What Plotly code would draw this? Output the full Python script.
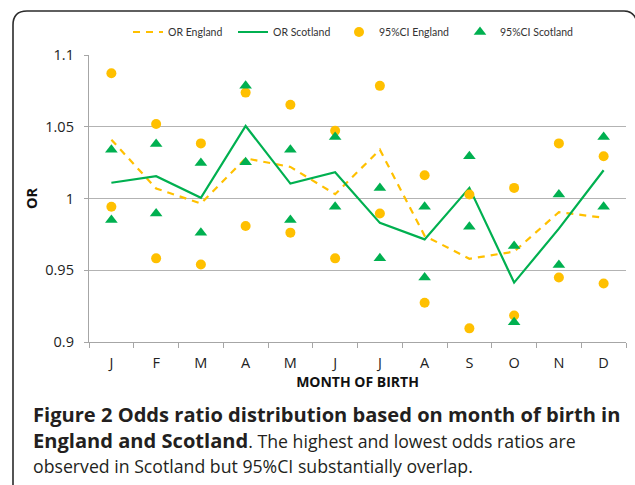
import plotly.graph_objects as go

months = ["J", "F", "M", "A", "M", "J", "J", "A", "S", "O", "N", "D"]
or_england = [1.041, 1.007, 0.9965, 1.028, 1.022, 1.003, 1.034, 0.974, 0.958, 0.963, 0.9905, 0.9866]
or_scotland = [1.011, 1.0155, 1.0005, 1.0505, 1.0104, 1.0183, 0.983, 0.9715, 1.0074, 0.9414, 0.979, 1.0197]
ci_england_hi = [1.0873, 1.0519, 1.0384, 1.0738, 1.0653, 1.0472, 1.0785, 1.0162, 1.0028, 1.0074, 1.0384, 1.0294]
ci_england_lo = [0.9942, 0.9583, 0.9540, 0.9808, 0.9762, 0.9583, 0.9896, 0.9273, 0.9095, 0.9185, 0.9449, 0.9408]
ci_scotland_hi = [1.034, 1.038, 1.0248, 1.0785, 1.034, 1.0428, 1.0074, 0.9942, 1.0294, 0.9669, 1.0028, 1.0428]
ci_scotland_lo = [0.985, 0.9896, 0.9762, 1.0252, 0.985, 0.9942, 0.9583, 0.9449, 0.9803, 0.9137, 0.9537, 0.9942]
y_ticks = [0.9, 0.95, 1.0, 1.05, 1.1]
y_tick_text = ["0.9", "0.95", "1", "1.05", "1.1"]

ORANGE = "#FFC000"
GREEN = "#00B050"
W, H = 635, 485
L, R, T, B = 89, 626, 55, 342

def px(x):
    return (x - L) / (R - L)

def py(y):
    return (B - y) / (B - T)

xs = list(range(len(months)))
fig = go.Figure()
fig.add_trace(go.Scatter(x=xs, y=or_england, mode="lines", name="OR England",
                         line=dict(color=ORANGE, width=2.2, dash="7px,6px"), legend="legend"))
fig.add_trace(go.Scatter(x=xs, y=or_scotland, mode="lines", name="OR Scotland",
                         line=dict(color=GREEN, width=2.2), legend="legend2"))
fig.add_trace(go.Scatter(x=xs + xs, y=ci_england_hi + ci_england_lo, mode="markers", name="95%CI England",
                         marker=dict(color=ORANGE, size=10, symbol="circle"), legend="legend3"))
fig.add_trace(go.Scatter(x=xs + xs, y=ci_scotland_hi + ci_scotland_lo, mode="markers", name="95%CI Scotland",
                         marker=dict(color=GREEN, size=11, symbol="triangle-up"), legend="legend4"))

leg_font = dict(family="Lato, Liberation Sans, sans-serif", size=10.5, color="#333")
def leg(xp):
    return dict(x=px(xp), y=py(32), xanchor="left", yanchor="middle", orientation="h",
                font=leg_font, bgcolor="rgba(0,0,0,0)", itemwidth=30, tracegroupgap=0)

# frame
frame = (f"M {px(13)},{py(495)} L {px(13)},{py(25)} Q {px(13)},{py(11)} {px(27)},{py(11)} "
         f"L {px(624)},{py(11)} Q {px(634)},{py(11)} {px(637)},{py(22)} L {px(637)},{py(495)}")
shapes = [dict(type="path", xref="paper", yref="paper", path=frame,
               line=dict(color="#2b2b2b", width=1.6), layer="above")]

cap_font = dict(family="Open Sans, Noto Sans, sans-serif", size=17.7, color="#231f20")
def big(s):
    return f'<span style="font-size:20.1px"><b>{s}</b></span>'
annotations = [
    dict(text=big("Figure 2 Odds ratio distribution based on month of birth in"),
         x=px(31), y=py(414), xref="paper", yref="paper", xanchor="left", yanchor="middle",
         showarrow=False, font=cap_font),
    dict(text=big("England and Scotland") + ". The highest and lowest odds ratios are",
         x=px(31), y=py(440), xref="paper", yref="paper", xanchor="left", yanchor="middle",
         showarrow=False, font=cap_font),
    dict(text="observed in Scotland but 95%CI substantially overlap.",
         x=px(31), y=py(466), xref="paper", yref="paper", xanchor="left", yanchor="middle",
         showarrow=False, font=cap_font),
]

axis_font = dict(family="Open Sans, Noto Sans, sans-serif", size=14.5, color="#222")
fig.update_layout(
    width=W, height=H,
    margin=dict(l=L, r=W - R, t=T, b=H - B, autoexpand=False),
    paper_bgcolor="white", plot_bgcolor="white",
    showlegend=True,
    legend=leg(128), legend2=leg(233), legend3=leg(339), legend4=leg(460),
    shapes=shapes, annotations=annotations,
    xaxis=dict(range=[-0.5, 11.5], tickmode="array", tickvals=xs, ticktext=months,
               ticks="", showgrid=False, zeroline=False,
               showline=True, linecolor="#a6a6a6", linewidth=1.3,
               tickfont=axis_font, ticklabelstandoff=7,
               minor=dict(tickmode="array", tickvals=[i - 0.5 for i in range(13)],
                          ticks="outside", ticklen=5, tickcolor="#a6a6a6", tickwidth=1.3, showgrid=False),
               title=dict(text="<b>MONTH OF BIRTH</b>", font=dict(family="Open Sans, Noto Sans, sans-serif", size=14, color="#111"),
                          standoff=5)),
    yaxis=dict(range=[0.9, 1.1], tickmode="array", tickvals=y_ticks, ticktext=y_tick_text,
               ticks="outside", ticklen=4, tickcolor="#a6a6a6", tickwidth=1.3,
               showgrid=True, gridcolor="#b3b3b3", gridwidth=1.3, zeroline=False,
               showline=True, linecolor="#a6a6a6", linewidth=1.3,
               tickfont=axis_font, ticklabelstandoff=7,
               title=dict(text="<b>OR</b>", font=dict(family="Open Sans, Noto Sans, sans-serif", size=14.5, color="#111"),
                          standoff=4)),
)
fig.write_html("out.html", config={"displayModeBar": False},
               post_script="document.body.style.margin='0';")
